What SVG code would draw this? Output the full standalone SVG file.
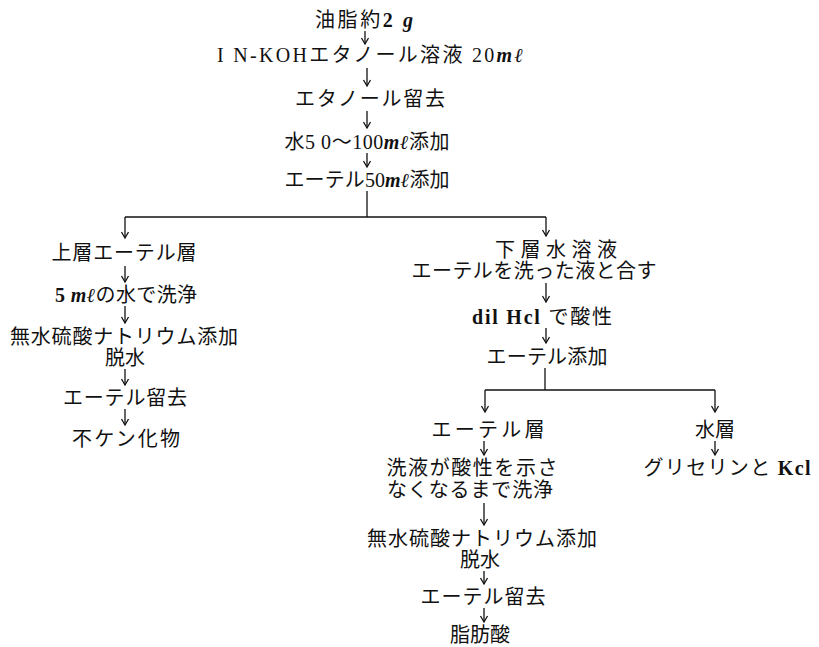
<svg xmlns="http://www.w3.org/2000/svg" width="819" height="647" viewBox="0 0 819 647">
<style>
text{font-family:"Liberation Serif","Noto Sans CJK JP",serif;font-size:20px;fill:#111;text-anchor:middle}
.b{font-weight:bold}
.bi{font-weight:bold;font-style:italic}
.c line,.c path{stroke:#111;stroke-width:1.3;fill:none}
</style>
<defs>
<marker id="ah" markerUnits="userSpaceOnUse" viewBox="-8 -5 10 10" refX="0" refY="0" markerWidth="10" markerHeight="10" orient="auto">
<path d="M-6,-3.5 L0,0 L-6,3.5" fill="none" stroke="#111" stroke-width="1.3"/>
</marker>
</defs>
<rect width="819" height="647" fill="#fff"/>
<g class="c" id="connectors">
<line x1="365" y1="31" x2="365" y2="44" marker-end="url(#ah)"/>
<line x1="367" y1="68" x2="367" y2="86" marker-end="url(#ah)"/>
<line x1="367" y1="111" x2="367" y2="128" marker-end="url(#ah)"/>
<line x1="367" y1="153" x2="367" y2="167" marker-end="url(#ah)"/>
<line x1="367" y1="191" x2="367" y2="217"/>
<line x1="125" y1="217" x2="546" y2="217"/>
<line x1="125" y1="217" x2="125" y2="238" marker-end="url(#ah)"/>
<line x1="546" y1="217" x2="546" y2="236" marker-end="url(#ah)"/>
<line x1="125" y1="266" x2="125" y2="282" marker-end="url(#ah)"/>
<line x1="125" y1="306" x2="125" y2="323" marker-end="url(#ah)"/>
<line x1="125" y1="369" x2="125" y2="385" marker-end="url(#ah)"/>
<line x1="125" y1="409" x2="125" y2="425" marker-end="url(#ah)"/>
<line x1="546" y1="283" x2="546" y2="302" marker-end="url(#ah)"/>
<line x1="546" y1="328" x2="546" y2="343" marker-end="url(#ah)"/>
<line x1="545" y1="368" x2="545" y2="390"/>
<line x1="485" y1="390" x2="715" y2="390"/>
<line x1="485" y1="390" x2="485" y2="412" marker-end="url(#ah)"/>
<line x1="715" y1="390" x2="715" y2="412" marker-end="url(#ah)"/>
<line x1="484" y1="441" x2="484" y2="455" marker-end="url(#ah)"/>
<line x1="715" y1="441" x2="715" y2="455" marker-end="url(#ah)"/>
<line x1="484" y1="503" x2="484" y2="525" marker-end="url(#ah)"/>
<line x1="484" y1="571" x2="484" y2="584" marker-end="url(#ah)"/>
<line x1="484" y1="608" x2="484" y2="622" marker-end="url(#ah)"/>
</g>
<g id="n1"><text x="364" y="27" textLength="98" lengthAdjust="spacing">油脂約<tspan class="b">2</tspan> <tspan class="bi">g</tspan></text></g>
<g id="n2"><text x="370" y="62" textLength="306" lengthAdjust="spacing">I N-KOHエタノール溶液 20<tspan class="bi">mℓ</tspan></text></g>
<g id="n3"><text x="370" y="106" textLength="150" lengthAdjust="spacing">エタノール留去</text></g>
<g id="n4"><text x="367" y="149" textLength="165" lengthAdjust="spacing">水5 0～100<tspan class="bi">mℓ</tspan>添加</text></g>
<g id="n5"><text x="367" y="187" textLength="165" lengthAdjust="spacing">エーテル50<tspan class="bi">mℓ</tspan>添加</text></g>
<g id="n6"><text x="124" y="260" textLength="145" lengthAdjust="spacing">上層エーテル層</text></g>
<g id="n7"><text x="126" y="302" textLength="142" lengthAdjust="spacing"><tspan class="b">5</tspan> <tspan class="bi">mℓ</tspan>の水で洗浄</text></g>
<g id="n8"><text x="124" y="344" textLength="228" lengthAdjust="spacing">無水硫酸ナトリウム添加</text><text x="125" y="365" textLength="40" lengthAdjust="spacing">脱水</text></g>
<g id="n9"><text x="125" y="405" textLength="124" lengthAdjust="spacing">エーテル留去</text></g>
<g id="n10"><text x="126" y="446" textLength="108" lengthAdjust="spacing">不ケン化物</text></g>
<g id="n11"><text x="556" y="257" textLength="122" lengthAdjust="spacing">下層水溶液</text><text x="534" y="278" textLength="245" lengthAdjust="spacing">エーテルを洗った液と合す</text></g>
<g id="n12"><text x="542" y="324" textLength="140" lengthAdjust="spacing"><tspan class="b">dil Hcl</tspan> で酸性</text></g>
<g id="n13"><text x="547" y="364" textLength="121" lengthAdjust="spacing">エーテル添加</text></g>
<g id="n14"><text x="488" y="437" textLength="113" lengthAdjust="spacing">エーテル層</text></g>
<g id="n15"><text x="715" y="437" textLength="40" lengthAdjust="spacing">水層</text></g>
<g id="n16"><text x="472" y="475" textLength="171" lengthAdjust="spacing">洗液が酸性を示さ</text><text x="470" y="497" textLength="166" lengthAdjust="spacing">なくなるまで洗浄</text></g>
<g id="n17"><text x="727" y="475" textLength="167" lengthAdjust="spacing">グリセリンと <tspan class="b">Kcl</tspan></text></g>
<g id="n18"><text x="482" y="546" textLength="230" lengthAdjust="spacing">無水硫酸ナトリウム添加</text><text x="480" y="567" textLength="40" lengthAdjust="spacing">脱水</text></g>
<g id="n19"><text x="483" y="604" textLength="125" lengthAdjust="spacing">エーテル留去</text></g>
<g id="n20"><text x="480" y="642" textLength="60" lengthAdjust="spacing">脂肪酸</text></g>
</svg>
